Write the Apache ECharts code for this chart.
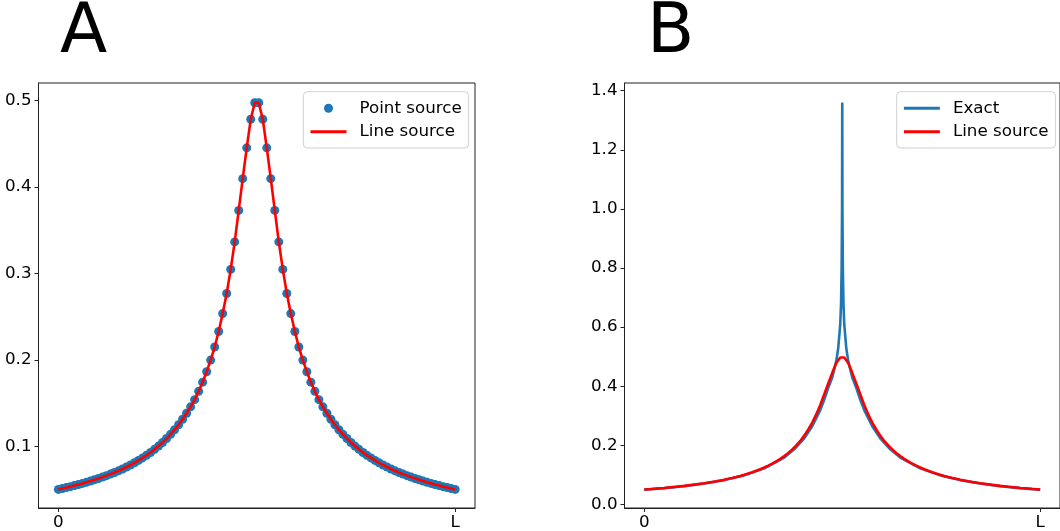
<!DOCTYPE html>
<html>
<head>
<meta charset="utf-8">
<script src="https://cdn.jsdelivr.net/npm/echarts@6/dist/echarts.min.js"></script>
<style>
  html, body { margin: 0; padding: 0; background: #fff; }
  #chart { width: 1060px; height: 531px; }
</style>
</head>
<body>
<div id="chart"></div>
<script>
// ---- data (x in sample-index units: 0 .. 99 corresponds to 0 .. L) ----
const xTickValues = [0, 99];
const xTickLabels = ['0', 'L'];
const yTicksA = [0.1, 0.2, 0.3, 0.4, 0.5];
const yTicksB = [0.0, 0.2, 0.4, 0.6, 0.8, 1.0, 1.2, 1.4];

const pointSourceY = [
  0.0505,0.0516,0.0526,0.0537,0.0549,0.0561,0.0574,0.0587,0.0601,0.0616,
  0.0631,0.0647,0.0664,0.0682,0.0701,0.0720,0.0741,0.0764,0.0787,0.0813,
  0.0840,0.0869,0.0899,0.0932,0.0968,0.1006,0.1047,0.1093,0.1142,0.1195,
  0.1253,0.1316,0.1385,0.1460,0.1543,0.1639,0.1745,0.1866,0.2000,0.2151,
  0.2331,0.2538,0.2770,0.3049,0.3367,0.3731,0.4098,0.4454,0.4785,0.4975,
  0.4975,0.4785,0.4454,0.4098,0.3731,0.3367,0.3049,0.2770,0.2538,0.2331,
  0.2151,0.2000,0.1866,0.1745,0.1639,0.1543,0.1460,0.1385,0.1316,0.1253,
  0.1195,0.1142,0.1093,0.1047,0.1006,0.0968,0.0932,0.0899,0.0869,0.0840,
  0.0813,0.0787,0.0764,0.0741,0.0720,0.0701,0.0682,0.0664,0.0647,0.0631,
  0.0616,0.0601,0.0587,0.0574,0.0561,0.0549,0.0537,0.0526,0.0516,0.0505
];

const lineSourceY = [
  0.0505,0.0516,0.0526,0.0537,0.0549,0.0561,0.0574,0.0587,0.0601,0.0616,
  0.0631,0.0647,0.0664,0.0682,0.0701,0.0720,0.0741,0.0764,0.0787,0.0813,
  0.0840,0.0869,0.0899,0.0932,0.0968,0.1006,0.1047,0.1093,0.1142,0.1195,
  0.1253,0.1316,0.1385,0.1460,0.1543,0.1639,0.1745,0.1866,0.2000,0.2151,
  0.2331,0.2538,0.2770,0.3049,0.3367,0.3731,0.4098,0.4454,0.4785,0.4975,
  0.4975,0.4785,0.4454,0.4098,0.3731,0.3367,0.3049,0.2770,0.2538,0.2331,
  0.2151,0.2000,0.1866,0.1745,0.1639,0.1543,0.1460,0.1385,0.1316,0.1253,
  0.1195,0.1142,0.1093,0.1047,0.1006,0.0968,0.0932,0.0899,0.0869,0.0840,
  0.0813,0.0787,0.0764,0.0741,0.0720,0.0701,0.0682,0.0664,0.0647,0.0631,
  0.0616,0.0601,0.0587,0.0574,0.0561,0.0549,0.0537,0.0526,0.0516,0.0505
];

const exactX = [0,5,10,15,20,25,30,35,37.5,40,42,44,45,46,47,48,48.5,49,49.2,49.35,49.45,
  49.5,
  49.55,49.65,49.8,50,50.5,51,52,53,54,55,57,59,61.5,64,69,74,79,84,89,94,99];
const exactY = [0.0505,0.0555,0.0623,0.0710,0.0826,0.0986,0.1224,0.159,0.1866,0.2237,0.2646,
  0.3195,0.3546,0.395,0.43,0.485,0.53,0.61,0.68,0.80,1.0,
  1.36,
  1.0,0.80,0.68,0.61,0.53,0.485,0.43,0.395,0.3546,0.3195,0.2646,0.2237,0.1866,0.159,0.1224,
  0.0986,0.0826,0.0710,0.0623,0.0555,0.0505];

// ---- build pairs ----
const pointPairs = pointSourceY.map((v, i) => [i, v]);
const linePairs = lineSourceY.map((v, i) => [i, v]);
const exactPairs = exactX.map((x, i) => [x, exactY[i]]);

const FONT = 'DejaVu Sans';
const FS = 16.7;
const BLUE = '#1f77b4';
const RED = '#ff0000';
const AX = '#222';

function xAxisCfg(gi) {
  return {
    type: 'value', gridIndex: gi, min: -4.95, max: 103.95,
    axisLine: { show: true, onZero: false, lineStyle: { color: AX, width: 1 } },
    axisTick: { show: true, inside: false, length: 4, customValues: xTickValues, lineStyle: { color: AX } },
    axisLabel: {
      show: true, customValues: xTickValues, margin: 6,
      fontFamily: FONT, fontSize: FS, color: '#000',
      formatter: (v) => { const k = xTickValues.indexOf(v); return k >= 0 ? xTickLabels[k] : ''; }
    },
    splitLine: { show: false }
  };
}
function yAxisCfg(gi, min, max, ticks) {
  return {
    type: 'value', gridIndex: gi, min: min, max: max,
    axisLine: { show: true, onZero: false, lineStyle: { color: AX, width: 1 } },
    axisTick: { show: true, inside: false, length: 4, customValues: ticks, lineStyle: { color: AX } },
    axisLabel: {
      show: true, customValues: ticks, margin: 7,
      fontFamily: FONT, fontSize: FS, color: '#000',
      formatter: (v) => Number(v).toFixed(1)
    },
    splitLine: { show: false }
  };
}

const legendCommon = {
  orient: 'vertical',
  itemWidth: 36, itemHeight: 9, itemGap: 6.6,
  symbolKeepAspect: true,
  textStyle: { fontFamily: FONT, fontSize: FS, color: '#000', padding: [0, 0, 0, 8] },
  backgroundColor: 'rgba(255,255,255,0.8)',
  borderColor: '#d0d0d0', borderWidth: 1, borderRadius: 4,
  padding: [8, 7, 7.7, 5.7],
  selectedMode: false
};
const hideSym = { opacity: 0 };
const iconLine = { width: 3 };

const chart = echarts.init(document.getElementById('chart'), null, { renderer: 'canvas' });
chart.setOption({
  animation: false,
  backgroundColor: '#fff',
  grid: [
    { left: 38.5, top: 83, width: 436.5, height: 426, show: true, borderColor: AX, borderWidth: 1, backgroundColor: 'transparent' },
    { left: 624.5, top: 83, width: 437, height: 426, show: true, borderColor: AX, borderWidth: 1, backgroundColor: 'transparent' }
  ],
  xAxis: [xAxisCfg(0), xAxisCfg(1)],
  yAxis: [yAxisCfg(0, 0.029, 0.5204, yTicksA), yAxisCfg(1, -0.0118, 1.426, yTicksB)],
  legend: [
    Object.assign({}, legendCommon, { left: 303.3, top: 91.7, data: [
      { name: 'Point source', icon: 'circle' },
      { name: 'Line source', itemStyle: hideSym, lineStyle: iconLine }
    ] }),
    Object.assign({}, legendCommon, { left: 896.7, top: 91.7, data: [
      { name: 'Exact', itemStyle: hideSym, lineStyle: iconLine },
      { name: 'Line source', itemStyle: hideSym, lineStyle: iconLine }
    ] })
  ],
  graphic: [
    { type: 'text', x: 60, y: 34, style: { text: 'A', fontFamily: FONT, fontSize: 69, fill: '#000', verticalAlign: 'middle', align: 'left' } },
    { type: 'text', x: 647, y: 34, style: { text: 'B', fontFamily: FONT, fontSize: 69, fill: '#000', verticalAlign: 'middle', align: 'left' } }
  ],
  series: [
    {
      name: 'Point source', type: 'scatter', xAxisIndex: 0, yAxisIndex: 0,
      data: pointPairs, symbol: 'circle', symbolSize: 9,
      itemStyle: { color: BLUE, opacity: 1 }, z: 2
    },
    {
      name: 'Line source', type: 'line', xAxisIndex: 0, yAxisIndex: 0,
      data: linePairs, symbol: 'none', showSymbol: false,
      lineStyle: { color: RED, width: 2.6 }, itemStyle: { color: RED }, z: 3
    },
    {
      name: 'Exact', type: 'line', xAxisIndex: 1, yAxisIndex: 1,
      data: exactPairs, symbol: 'none', showSymbol: false,
      lineStyle: { color: BLUE, width: 2.6 }, itemStyle: { color: BLUE }, z: 2
    },
    {
      name: 'Line source', type: 'line', xAxisIndex: 1, yAxisIndex: 1,
      data: linePairs, symbol: 'none', showSymbol: false,
      lineStyle: { color: RED, width: 2.6 }, itemStyle: { color: RED }, z: 3
    }
  ]
});
</script>
</body>
</html>
